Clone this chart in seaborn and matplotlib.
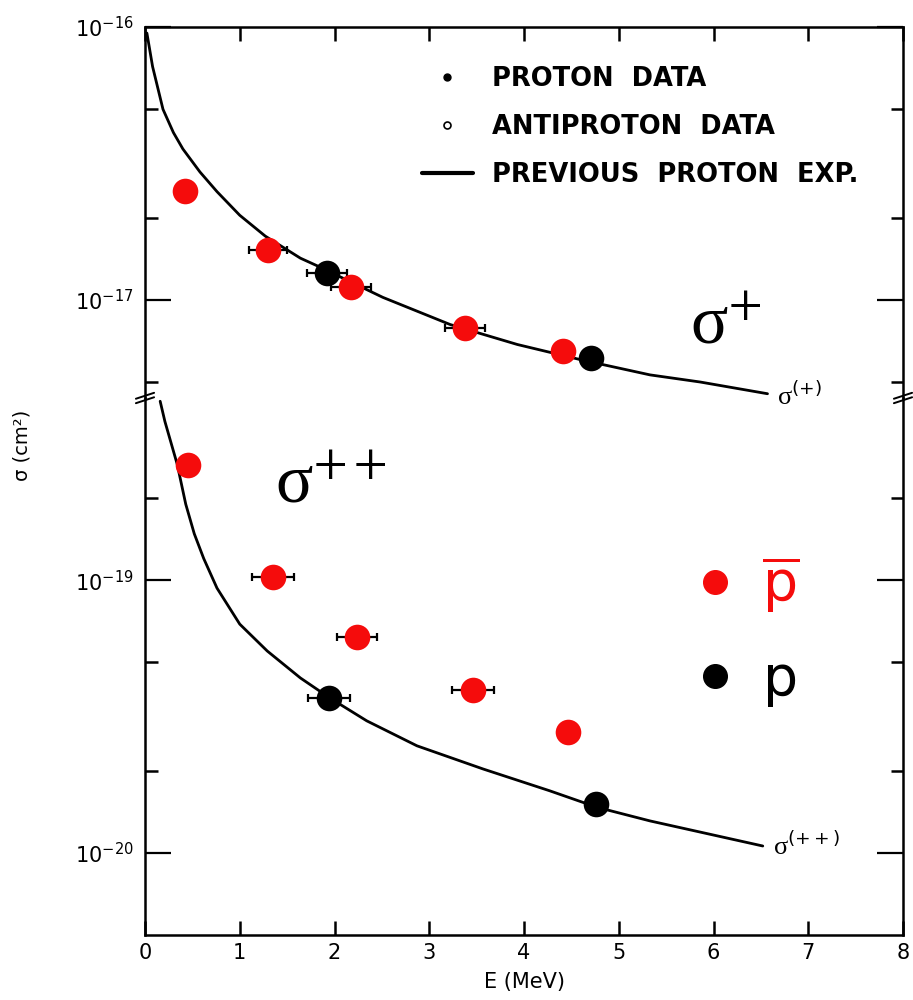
import numpy as np
import pandas as pd
import matplotlib
matplotlib.use("Agg")
import matplotlib.pyplot as plt
import seaborn as sns
from matplotlib.ticker import FixedLocator, NullFormatter, LogFormatterMathtext
from matplotlib.lines import Line2D

# ---------------- data ----------------
# previous proton experiment curves
curve_plus_E = [0.02, 0.08, 0.19, 0.30, 0.40, 0.58, 0.76, 1.00, 1.27, 1.64, 1.82, 2.51, 3.22, 3.93, 4.62, 5.33, 5.86, 6.57]
curve_plus_sigma = [9.5e-17, 7.16e-17, 4.99e-17, 4.1e-17, 3.57e-17, 2.94e-17, 2.49e-17, 2.04e-17, 1.71e-17, 1.42e-17,
                    1.33e-17, 1.02e-17, 8.11e-18, 6.85e-18, 6.0e-18, 5.3e-18, 4.99e-18, 4.52e-18]
curve_pp_E = [0.16, 0.21, 0.34, 0.43, 0.52, 0.62, 0.76, 1.00, 1.29, 1.64, 1.95, 2.34, 2.87, 3.57, 4.27, 4.77, 5.33, 6.52]
curve_pp_sigma = [4.53e-19, 3.82e-19, 2.66e-19, 1.90e-19, 1.48e-19, 1.20e-19, 9.35e-20, 6.90e-20, 5.50e-20, 4.38e-20,
                  3.70e-20, 3.05e-20, 2.47e-20, 2.03e-20, 1.69e-20, 1.47e-20, 1.31e-20, 1.06e-20]

# sigma(+) measurements
plus_pbar_E = [0.42, 1.30, 2.17, 3.38, 4.41]
plus_pbar_sigma = [2.5e-17, 1.52e-17, 1.11e-17, 7.9e-18, 6.47e-18]
plus_pbar_Eerr = [0.0, 0.20, 0.21, 0.21, 0.0]
plus_p_E = [1.92, 4.71]
plus_p_sigma = [1.25e-17, 6.1e-18]
plus_p_Eerr = [0.21, 0.0]

# sigma(++) measurements
pp_pbar_E = [0.45, 1.35, 2.24, 3.46, 4.46]
pp_pbar_sigma = [2.64e-19, 1.03e-19, 6.18e-20, 3.95e-20, 2.77e-20]
pp_pbar_Eerr = [0.0, 0.22, 0.21, 0.22, 0.0]
pp_p_E = [1.94, 4.76]
pp_p_sigma = [3.7e-20, 1.51e-20]
pp_p_Eerr = [0.22, 0.0]

x_ticks = [0, 1, 2, 3, 4, 5, 6, 7, 8]
top_major = [1e-16, 1e-17]
top_minor = [5e-17, 2e-17, 5e-18]
bot_major = [1e-19, 1e-20]
bot_minor = [2e-19, 5e-20, 2e-20]

legend_top_labels = ["PROTON  DATA", "ANTIPROTON  DATA", "PREVIOUS  PROTON  EXP."]

RED = "#f50c0c"

# ---------------- style ----------------
sns.set_theme(style="ticks")
plt.rcParams["font.family"] = ["DejaVu Sans"]
plt.rcParams["mathtext.fontset"] = "dejavusans"
for k in ("text.color", "axes.labelcolor", "xtick.color", "ytick.color", "axes.edgecolor"):
    plt.rcParams[k] = "black"

fig = plt.figure(figsize=(9.13, 10), dpi=100)
L, W = 145 / 913, 758 / 913
ax1 = fig.add_axes([L, 1 - 398 / 1000, W, 371 / 1000])
ax2 = fig.add_axes([L, 1 - 935 / 1000, W, 537 / 1000])
ax2.set_facecolor("none")


def draw_panel(ax, cE, cS, pbE, pbS, pbErr, pE, pS, pErr):
    dfc = pd.DataFrame({"E": cE, "sigma": cS})
    sns.lineplot(data=dfc, x="E", y="sigma", ax=ax, color="black", lw=2.0, zorder=2)
    for E, S, Er in ((pbE, pbS, pbErr), (pE, pS, pErr)):
        d = pd.DataFrame({"E": E, "sigma": S, "err": Er})
        d = d[d["err"] > 0]
        ax.errorbar(d["E"], d["sigma"], xerr=d["err"], fmt="none", ecolor="black",
                    elinewidth=1.6, capsize=3, capthick=1.6, zorder=3)
    dfa = pd.DataFrame({"E": pbE, "sigma": pbS})
    dfp = pd.DataFrame({"E": pE, "sigma": pS})
    sns.scatterplot(data=dfa, x="E", y="sigma", ax=ax, color=RED, s=340, linewidth=0, zorder=4)
    sns.scatterplot(data=dfp, x="E", y="sigma", ax=ax, color="black", s=340, linewidth=0, zorder=4)
    ax.set_yscale("log")
    ax.set_xlim(0, 8)
    ax.set_xlabel("")
    ax.set_ylabel("")
    for s in ax.spines.values():
        s.set_linewidth(1.8)
        s.set_color("black")
    ax.xaxis.set_major_locator(FixedLocator(x_ticks))
    ax.tick_params(axis="x", which="major", direction="in", length=10, width=1.8,
                   top=True, bottom=True, labelsize=15, pad=6)
    ax.tick_params(axis="y", which="major", direction="in", length=19, width=1.6,
                   left=True, right=True, labelsize=15, pad=8)
    ax.tick_params(axis="y", which="minor", direction="in", length=9, width=1.8,
                   left=True, right=True)


draw_panel(ax1, curve_plus_E, curve_plus_sigma, plus_pbar_E, plus_pbar_sigma, plus_pbar_Eerr,
           plus_p_E, plus_p_sigma, plus_p_Eerr)
draw_panel(ax2, curve_pp_E, curve_pp_sigma, pp_pbar_E, pp_pbar_sigma, pp_pbar_Eerr,
           pp_p_E, pp_p_sigma, pp_p_Eerr)

ax1.set_ylim(10 ** -17.3605, 1e-16)
ax2.set_ylim(5e-21, 10 ** -18.332)

for ax, maj, mnr in ((ax1, top_major, top_minor), (ax2, bot_major, bot_minor)):
    ax.yaxis.set_major_locator(FixedLocator(maj))
    ax.yaxis.set_major_formatter(LogFormatterMathtext())
    ax.yaxis.set_minor_locator(FixedLocator(mnr))
    ax.yaxis.set_minor_formatter(NullFormatter())

ax1.spines["bottom"].set_visible(False)
ax1.tick_params(axis="x", bottom=False, labelbottom=False)
ax2.spines["top"].set_visible(False)
ax2.tick_params(axis="x", top=False)

# break marks
for xb in (0, 1):
    for dy in (-0.006, 0.006):
        ax1.plot([xb - 0.012, xb + 0.012], [dy - 0.008, dy + 0.008], transform=ax1.transAxes,
                 color="black", lw=1.4, clip_on=False)

# axis labels
ax2.set_xlabel("E (MeV)", fontsize=15, labelpad=6)
fig.text(22 / 913, 1 - 445 / 1000, "σ (cm²)", rotation=90, fontsize=14,
         ha="center", va="center")

# big annotations (upright serif sigma)
ax1.text(0.719, 0.146, r"σ$^{+}$", transform=ax1.transAxes, fontsize=50,
         family="Liberation Serif", math_fontfamily="stix", ha="left", va="baseline")
ax2.text(0.171, 0.806, r"σ$^{++}$", transform=ax2.transAxes, fontsize=50,
         family="Liberation Serif", math_fontfamily="stix", ha="left", va="baseline")
ax1.text(0.834, -0.019, r"σ$^{(+)}$", transform=ax1.transAxes, fontsize=19,
         family="Liberation Serif", math_fontfamily="dejavusans", ha="left", va="baseline",
         zorder=10)
ax2.text(0.8285, 0.149, r"σ$^{(++)}$", transform=ax2.transAxes, fontsize=19,
         family="Liberation Serif", math_fontfamily="dejavusans", ha="left", va="baseline")

# legend (top)
h_top = [Line2D([], [], marker="o", ls="none", color="black", markersize=5),
         Line2D([], [], marker="o", ls="none", mfc="white", mec="black", markersize=5, mew=1.2),
         Line2D([], [], color="black", lw=3)]
ax1.legend(h_top, legend_top_labels,
           loc="upper left", bbox_to_anchor=(0.365, 0.895), frameon=False,
           handlelength=2.0, handletextpad=0.72, labelspacing=0.85,
           borderpad=0, borderaxespad=0, prop={"weight": "bold", "size": 18.5})

# legend (p-bar / p)
h_bot = [Line2D([], [], marker="o", ls="none", color=RED, markersize=17),
         Line2D([], [], marker="o", ls="none", color="black", markersize=17)]
ax2.legend(h_bot, [r"$\mathrm{\overline{p}}$", r"$\mathrm{p}$"], loc="upper left",
           bbox_to_anchor=(0.730, 0.708), frameon=False, fontsize=40,
           handlelength=0.6, handletextpad=0.55, labelspacing=0.69,
           borderpad=0, borderaxespad=0, labelcolor=[RED, "black"])

fig.savefig("out.png", dpi=100)
